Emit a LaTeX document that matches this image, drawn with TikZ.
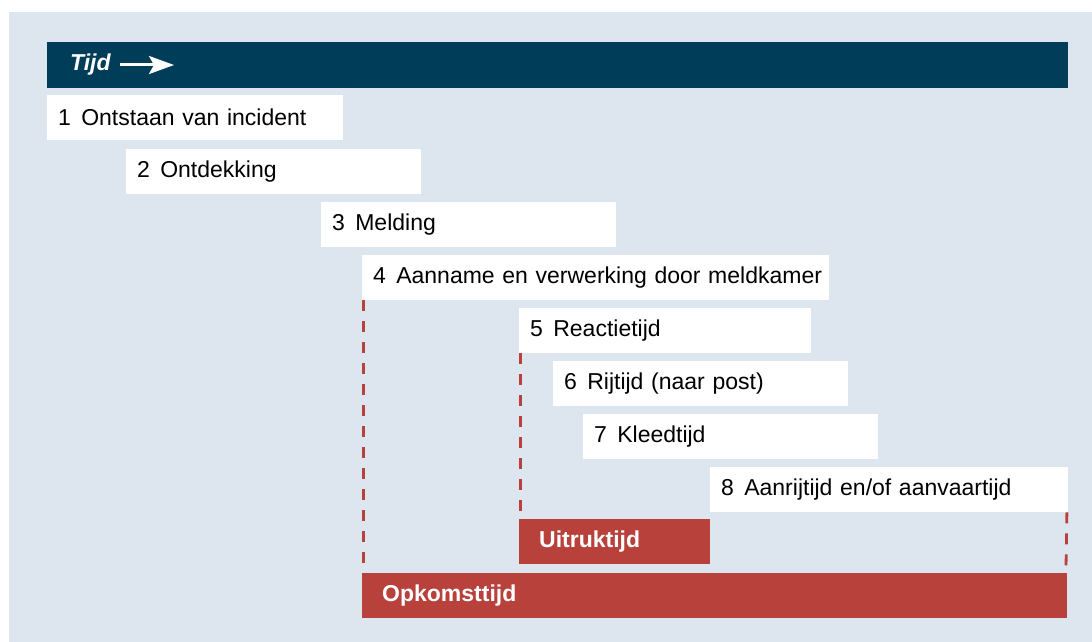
\documentclass[tikz,border=0pt]{standalone}
\usepackage{fontspec}
\setmainfont{Liberation Sans}
\usetikzlibrary{arrows.meta}
\definecolor{bgblue}{RGB}{221,230,239}
\definecolor{darkbar}{RGB}{0,61,88}
\definecolor{redbar}{RGB}{184,66,59}
\tikzset{
  px/.style={x=1pt,y=-1pt},
  stepbox/.style={fill=white, draw=none, anchor=north west, inner xsep=11pt, inner ysep=0pt,
    minimum height=45pt, align=left, font=\fontsize{23}{27}\selectfont, text=black},
  redbox/.style={fill=redbar, draw=none, anchor=north west, inner xsep=20pt, inner ysep=0pt,
    minimum height=45pt, align=left, font=\fontsize{23}{27}\selectfont\bfseries, text=white},
  dashline/.style={draw=redbar, line width=2.8pt, dash pattern=on 11pt off 10pt},
}
\newcommand{\num}[2]{\mbox{#1\hspace{0.45em}#2}}
\begin{document}
\begin{tikzpicture}[px]
\useasboundingbox (0,0) rectangle (1092,642);
\fill[bgblue] (9,12) rectangle (1092,642);
\fill[darkbar] (47,42) rectangle (1068,88);
\node[anchor=west, inner sep=0pt, text=white, font=\fontsize{23}{27}\selectfont\bfseries\itshape] (tijd) at (70,65) {Tijd};
\coordinate (arrowend) at (174,65);
\draw[white, line width=3pt, -{Stealth[length=25pt,width=18pt,inset=5pt]}] ([xshift=9pt]tijd.east) -- (arrowend);

\node[stepbox, text width=274pt] (s1) at (47,95) {\num{1}{Ontstaan van incident}};
\node[stepbox, text width=273pt] (s2) at (126,149) {\num{2}{Ontdekking}};
\node[stepbox, text width=273pt] (s3) at (321,202) {\num{3}{Melding}};
\node[stepbox, text width=445pt] (s4) at (362,255) {\num{4}{Aanname en verwerking door meldkamer}};
\node[stepbox, text width=270pt] (s5) at (519,308) {\num{5}{Reactietijd}};
\node[stepbox, text width=273pt] (s6) at (553,361) {\num{6}{Rijtijd (naar post)}};
\node[stepbox, text width=273pt] (s7) at (583,414) {\num{7}{Kleedtijd}};
\node[stepbox, text width=336pt] (s8) at (710,467) {\num{8}{Aanrijtijd en/of aanvaartijd}};

\node[redbox, text width=151pt] (uit) at (519,519) {Uitruktijd};
\node[redbox, text width=665pt] (opk) at (362,573) {Opkomsttijd};

\draw[dashline] ([xshift=1.5pt]s4.south west) -- ([xshift=1.5pt]opk.north west);
\draw[dashline] ([xshift=1.5pt]s5.south west) -- ([xshift=1.5pt]uit.north west);
\draw[dashline] ([xshift=-1.5pt]s8.south east) -- ([xshift=-1.5pt]opk.north east);
\end{tikzpicture}
\end{document}
